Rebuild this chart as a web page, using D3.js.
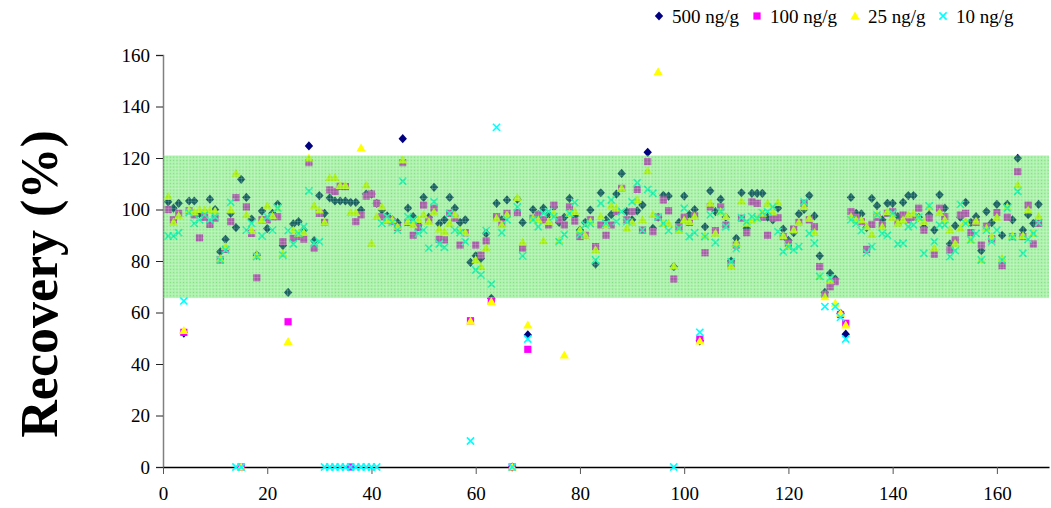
<!DOCTYPE html>
<html>
  <head>
    <style type="text/css">
      body { margin: 0; background: #fff; }
      text { font-family: "Liberation Serif", "Times New Roman", serif; fill: #000; }
    </style>
  </head>
  <body>
    <div id="canvas"></div>
    <script type="text/javascript" src="https://cdn.jsdelivr.net/npm/d3@7/dist/d3.min.js"></script>
    <script type="text/javascript">
      // sample number runs 1..168, one value per sample for each level
      var conc500 = [103,100.5,102.4,52,103.3,103.3,98.5,99,104,100,83.6,88.4,98.5,93,111.7,104.7,96.3,82.3,99.4,92.6,
        98.5,102,86,67.8,94.4,95.3,92,124.7,87.9,105.4,98.5,104.5,103.3,103.3,103.3,102.8,102.8,99.8,106,106,
        102.4,99.8,97.5,96,95,127.5,100.5,97.2,94,104.7,97,108.6,94.5,96,104.7,100.5,95,96,79.5,82,
        81,90.7,65.5,102.4,96,103.7,0,104,95,51.3,100,98,100.5,98,101,95,97,104.3,97.5,92,
        95,99.8,78.8,106.5,96,98,106,114,99.2,96,99.5,101.7,122.2,92.7,97,105.5,105.2,77.8,95,105.2,
        98,100,49,93.3,107.2,99.2,104,97,80,88.8,106.5,92.7,106.3,106.3,106.3,97,96,100.5,92.4,88,
        91,98.3,100,105.4,97.5,82,67.8,75.2,73,59.7,51.6,104.7,98.5,98.3,93,104.3,101.5,96,102.4,102.4,
        97.2,102.8,105.4,105.4,97,93,98,92,105.7,100.5,86.6,93.7,97,102.8,95,97.2,84,99.2,94.9,102,
        90,102,96,119.9,92,98,94.6,102];

      var conc100 = [100,96,98.5,52.3,99.5,97.9,89,97,94.2,96.6,80.4,84.5,95.3,104.6,0,101,90.7,73.5,96,96,
        97.2,97.2,87.5,56.4,88.8,89.5,88.5,118.2,85,98.5,95,107.6,107,109,108.9,0,95.3,97.9,105.2,106,
        102.4,97.2,96,95.3,93,118.2,95,90,93,101.7,96,100.5,88.4,88.2,98.5,96.6,86.2,91,56.8,86.2,
        82.3,87.8,64.5,97.2,94.6,98.5,0,98.8,85,45.7,96.6,98,96,94,101.7,96,94,101,95.5,89.5,
        90,96,85.6,94,90,94,99.2,108.2,96,99.2,107.8,92,118.6,91.4,97,103.7,99.5,73,93.3,97,
        95,97.5,49.6,83.2,101,91.8,101,94,78.8,86.2,96.6,91,103,102.4,97,90,96.8,96.8,89.5,86.9,
        92.4,95,102.4,96,93.3,77.8,67,70,72,59.2,55.8,99.2,97,95.3,84.5,94.2,97,94,98.5,99.2,
        95,97.9,96,97,100.5,92,96.6,82.6,100.5,97.2,84.3,88.2,97.9,98.5,91,95,86.2,93.5,88.6,98.8,
        78.2,97,89.5,114.7,89.5,101.7,86.6,94.6];

      var conc25 = [105,95,97.5,53,99.8,99,100,99.8,99.8,99.4,80.8,85.6,99.8,114,0,97.9,91.8,82.3,96,101.4,
        97.5,100.5,83,48.7,92,90.7,91,120,101.4,99.8,95,112.4,112.4,109.3,109.3,98.8,98.8,123.8,109.5,86.9,
        97.2,101,96,96,93.3,119.2,95.3,94,96,97.9,95.3,99,92.4,91.4,94.6,97.9,91.8,91,56.7,80.4,
        77.8,85,64.2,96.6,94,97.9,0,104.6,87.2,55.1,96.6,96,87.8,95.3,98.5,87.8,43.5,98.5,99.2,92,
        90,95.3,84.3,97.2,94,101.4,100.5,108.2,92.7,94.9,103.8,96,115,98,153.5,94.6,94.6,78,91.8,95.9,
        95.3,97.2,48.9,89.8,102.4,90.7,99.2,97.2,78,86.9,103.3,94.6,95.9,96.6,98.5,102.4,99,102.7,89.8,85.6,
        92,94.9,101,96.6,91,74,66.1,72.5,63.6,59.7,55.1,97.2,95.9,96,93.3,90.3,98,93.3,99.2,97,
        94.6,96,97.9,98.5,96.8,95.3,101,85,98.8,96,92,86.9,92.7,95.3,88.2,95.5,80.4,92.7,89.5,97,
        81,101,89.8,109.5,89.8,99.8,90.7,97.2];

      var conc10 = [89.7,89.7,91,64.5,98.8,94.6,96,97.9,96,97.2,80.4,84.3,102.8,0,0,92,94.6,81.7,89.7,97.2,
        92,100.5,82.3,91.8,86.6,90.7,93.3,107.2,86.9,87.5,0,0,0,0,0,0,0,0,0,0,
        0,94.6,97.2,95,92,111,97.2,96,90.7,92,85,103,86.6,85.3,98.5,92,91,87.5,10.1,76.5,
        74.6,91.8,71,131.9,91,96,0,101,82,49.7,96,93.3,98.5,99.2,97.2,87.5,90.3,98.5,102.7,90.3,
        94,94.5,80.4,102.4,94.6,103.7,95.3,99.2,95.3,103,110.4,92,107.8,106.3,97,94.6,91.8,0,92.7,100.5,
        89.5,91,52.3,89.5,97.9,87.2,99.2,93.3,79.7,84.8,96.8,95.3,97.2,96.6,98.8,99.2,101,91.4,83.6,85.6,
        84.3,85.6,103,90.7,86.9,74,62.3,73.4,62.3,58.1,49.7,96,94.6,91.8,83.2,85.6,97.9,90.7,90,98.5,
        86.6,86.9,93.3,94,97,83,101.4,87.5,94,94,81.7,84,102,94.6,88.2,90.7,80.4,92,87.5,92,
        80.4,100.5,89.2,107,83,88.4,90.7,94.9];

      var seriesNames = ["500 ng/g", "100 ng/g", "25 ng/g", "10 ng/g"];
      var seriesColors = ["#000080", "#ff00ff", "#ffff00", "#00ffff"];
      var seriesShapes = ["diamond", "square", "triangle", "cross"];
      var xTicks = [0, 20, 40, 60, 80, 100, 120, 140, 160];
      var yTicks = [0, 20, 40, 60, 80, 100, 120, 140, 160];
      var band = [65.6, 121]; // acceptable recovery range

      var width = 1051, height = 508;

      var svg = d3.select('#canvas').append('svg')
                  .attr('width', width)
                  .attr('height', height);

      var x = d3.scaleLinear().domain([0, 170]).range([163, 1049]);
      var y = d3.scaleLinear().domain([0, 160]).range([467, 55]);

      // little marker paths, centred on 0,0
      var shapePath = function (shape) {
        if (shape === 'diamond') return 'M0,-4.6L4.2,0L0,4.6L-4.2,0Z';
        if (shape === 'square') return 'M-3.6,-3.6H3.6V3.6H-3.6Z';
        if (shape === 'triangle') return 'M0,-4.6L4.6,3.4H-4.6Z';
        return 'M-3.6,-3.6L3.6,3.6M-3.6,3.6L3.6,-3.6';
      };

      var drawMarker = function (g, shape, color) {
        var p = g.append('path').attr('d', shapePath(shape));
        if (shape === 'cross') {
          p.attr('fill', 'none').attr('stroke', color).attr('stroke-width', 1.6);
        } else {
          p.attr('fill', color);
        }
      };

      // axes
      var yAxis = d3.axisLeft(y).tickValues(yTicks).tickSize(7).tickPadding(6);
      var gy = svg.append('g').attr('transform', 'translate(163,0)').call(yAxis);
      gy.select('.domain').attr('stroke', '#808080').attr('stroke-width', 1.5);
      gy.selectAll('.tick line').attr('stroke', '#222');
      gy.selectAll('text').attr('font-size', 19).attr('font-family', '"Liberation Serif", serif');

      var xAxis = d3.axisBottom(x).tickValues(xTicks).tickSize(7).tickPadding(13).tickSizeOuter(0);
      var gx = svg.append('g').attr('transform', 'translate(0,467)').call(xAxis);
      gx.select('.domain').attr('stroke', '#000').attr('stroke-width', 1.5);
      gx.selectAll('.tick line').attr('stroke', '#555');
      gx.selectAll('text').attr('font-size', 19).attr('font-family', '"Liberation Serif", serif');

      // points
      var allSeries = [conc500, conc100, conc25, conc10];
      allSeries.forEach(function (vals, s) {
        var g = svg.append('g');
        vals.forEach(function (v, i) {
          var m = g.append('g').attr('transform', 'translate(' + x(i + 1) + ',' + y(v) + ')');
          drawMarker(m, seriesShapes[s], seriesColors[s]);
        });
      });

      // green band lies over the points, see-through with a fine grid
      var defs = svg.append('defs');
      var pat = defs.append('pattern').attr('id', 'grid')
                    .attr('width', 3.3).attr('height', 3.3)
                    .attr('patternUnits', 'userSpaceOnUse');
      pat.append('rect').attr('width', 3.3).attr('height', 3.3).attr('fill', 'rgba(45,220,45,0.42)');
      pat.append('rect').attr('width', 3.3).attr('height', 0.8).attr('fill', 'rgba(255,255,255,0.2)');
      pat.append('rect').attr('width', 0.8).attr('height', 3.3).attr('fill', 'rgba(255,255,255,0.2)');
      pat.append('rect').attr('x', 1.6).attr('y', 1.6).attr('width', 0.9).attr('height', 0.9).attr('fill', 'rgba(30,170,30,0.3)');

      svg.append('rect')
         .attr('x', x(0)).attr('y', y(band[1]))
         .attr('width', x(170) - x(0))
         .attr('height', y(band[0]) - y(band[1]))
         .attr('fill', 'url(#grid)');

      // y title
      svg.append('text')
         .attr('transform', 'translate(57,284) rotate(-90)')
         .attr('text-anchor', 'middle')
         .attr('font-size', 52)
         .attr('font-weight', 'bold')
         .text('Recovery (%)');

      // legend
      var legendX = [659, 757, 855, 943];
      seriesNames.forEach(function (name, s) {
        var lg = svg.append('g').attr('transform', 'translate(' + legendX[s] + ',16)');
        drawMarker(lg, seriesShapes[s], seriesColors[s]);
        lg.append('text').attr('x', 13).attr('y', 6.5)
          .attr('font-size', 19)
          .text(name);
      });
    </script>
  </body>
</html>
